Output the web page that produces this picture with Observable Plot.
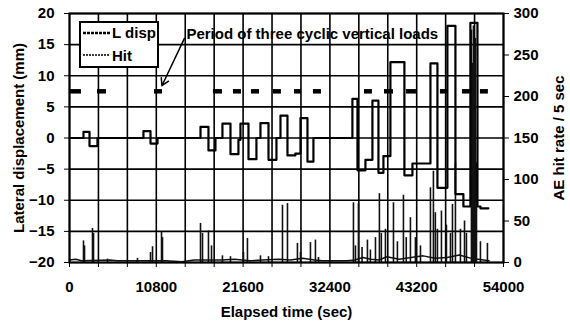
<!DOCTYPE html>
<html><head><meta charset="utf-8">
<script src="https://cdn.jsdelivr.net/npm/d3@7"></script>
<script src="https://cdn.jsdelivr.net/npm/@observablehq/plot@0.6"></script>
<style>
body{margin:0;background:#fff;}
#wrap{position:relative;width:570px;height:323px;}
#legend{position:absolute;left:79px;top:21px;}
</style></head><body><div id="wrap"></div>
<script>
// ---- data ----
const timeLabels = [0, 10800, 21600, 32400, 43200, 54000];
const gridTimes = [0,3600,7200,10800,14400,18000,21600,25200,28800,32400,36000,39600,43200,46800,50400,54000];
const dispTicks = [-20,-15,-10,-5,0,5,10,15,20];
const hitTicks = [0,50,100,150,200,250,300];

// lateral displacement (mm), step changes
const dispTime  = [0,1740,2490,3480,9200,10080,10950,16300,17290,18160,19030,20030,21020,21270,22270,23260,23760,24760,25750,26250,27120,28100,28740,29610,30350,35200,35830,36820,37690,38440,39060,39930,41670,42670,44910,45780,47020,48020,49010,49880,50760,51130,52120];
const dispValue = [0,1.0,-1.3,0,1.1,-0.9,0,1.8,-2.0,0,2.3,-2.6,-0.3,2.3,-3.4,0,2.4,-3.5,0,3.6,-2.8,-2.5,3.2,-3.8,0,6.3,-5.2,-3.5,6.0,-5.6,-2.9,12.2,-6.0,-4.1,12.0,-8.0,18.0,-9.0,-11.0,18.5,-11.0,-11.3,-11.3];

// AE hit rate: background level and spikes
const hitBaseTime = [0,800,1500,5000,6000,9000,12000,14000,15500,19000,20500,22500,24000,26000,27500,29000,30500,31500,34500,35500,36500,37500,38500,39500,41000,42500,44000,45500,47000,48500,50000,51500,52200];
const hitBaseRate = [3,4,2,3,2,2,2,1,3,3,4,2,3,4,3,5,3,2,2,3,6,4,3,7,4,6,8,5,6,9,5,3,2];
const hitSpikeTime = [1740,1870,2860,2990,4730,8460,10080,10330,11450,11570,16300,16550,17290,17670,19030,20030,21650,22140,23760,24760,26500,27120,28360,28740,29980,30600,30980,35330,35580,35950,36400,37070,37440,38070,38560,38800,39310,40310,40800,41550,41900,42420,43040,43670,44910,45280,45520,45780,46280,46900,47400,47650,48020,48640,49150,49390,50010,50130,50260,50380,50510,50640,51130,52000];
const hitSpikeRate = [26,20,41,35,4,5,12,19,37,30,47,35,38,20,8,7,12,29,8,7,69,71,23,12,24,27,6,72,20,71,18,27,15,30,83,35,40,72,25,81,30,54,30,20,90,110,60,40,62,45,35,70,120,40,50,35,280,240,285,260,270,120,25,23];

// periods of three cyclic vertical loads (sec)
const periodStart = [0,3480,10570,17910,20400,22640,25380,27990,30350,36700,39190,41920,46150,48890,51130];
const periodEnd   = [1490,4600,11570,19030,21400,23640,26370,28860,31350,37690,40310,43170,47150,49880,52120];
const periodLevel = 7.5;

const annotation = "Period of three cyclic vertical loads";

// ---- build ----
const hitToMM = h => h / 300 * 40 - 20;
const disp = dispTime.map((t, i) => ({t, v: dispValue[i]}));
const base = hitBaseTime.map((t, i) => ({t, v: hitToMM(hitBaseRate[i])}));
const spikes = hitSpikeTime.map((t, i) => ({t, v0: hitToMM(0), v1: hitToMM(hitSpikeRate[i])}));
const periods = periodStart.map((s, i) => ({s, e: periodEnd[i], y: periodLevel}));

const font = '"Liberation Sans", Arial, sans-serif';

const chart = Plot.plot({
  width: 570, height: 323,
  marginLeft: 69, marginRight: 67, marginTop: 13, marginBottom: 61,
  style: {fontFamily: font, fontSize: "15px", fontWeight: "bold"},
  x: {domain: [0, 54000]},
  y: {domain: [-20, 20]},
  marks: [
    Plot.gridX({ticks: gridTimes, stroke: "black", strokeOpacity: 1, strokeWidth: 1.6}),
    Plot.gridY({ticks: dispTicks, stroke: "black", strokeOpacity: 1, strokeWidth: 1.6}),
    Plot.axisX(gridTimes, {anchor: "bottom", tickSize: 5, tickPadding: 14,
      tickFormat: d => timeLabels.includes(d) ? String(d) : "",
      label: "Elapsed time (sec)", labelAnchor: "center", labelArrow: "none", labelOffset: 54}),
    Plot.axisY(dispTicks, {anchor: "left", tickSize: 5, tickPadding: 10,
      label: "Lateral displacement (mm)", labelAnchor: "center", labelArrow: "none", labelOffset: 56}),
    Plot.axisY(hitTicks.map(hitToMM), {anchor: "right", tickSize: 5, tickPadding: 5,
      tickFormat: d => String(Math.round((d + 20) / 40 * 300)),
      label: "AE hit rate / 5 sec", labelAnchor: "center", labelArrow: "none", labelOffset: 60}),
    Plot.line(base, {x: "t", y: "v", stroke: "#111", strokeWidth: 1.5}),
    Plot.ruleX(spikes, {x: "t", y1: "v0", y2: "v1", stroke: "#111", strokeWidth: 1.6}),
    Plot.line(disp, {x: "t", y: "v", curve: "step-after", stroke: "#000", strokeWidth: 2.2}),
    Plot.ruleY(periods, {x1: "s", x2: "e", y: "y", stroke: "#000", strokeWidth: 4.5}),
    Plot.arrow([{x1: 14300, y1: 16.0, x2: 11500, y2: 8.4}], {x1: "x1", y1: "y1", x2: "x2", y2: "y2", stroke: "#000", strokeWidth: 1.5, headLength: 8}),
    Plot.text([annotation], {x: 14550, y: 16.6, text: d => d, textAnchor: "start", fontSize: 15, fontWeight: "bold", fill: "#000"}),
    Plot.frame({stroke: "#000", strokeWidth: 2})
  ]
});

const wrap = document.getElementById("wrap");
wrap.appendChild(chart);

// legend
const ns = "http://www.w3.org/2000/svg";
const lg = document.createElementNS(ns, "svg");
lg.setAttribute("id", "legend");
lg.setAttribute("width", 80); lg.setAttribute("height", 47);
lg.innerHTML = `
<rect x="1" y="1" width="78" height="45" fill="#fff" stroke="#000" stroke-width="2"/>
<line x1="4" x2="31" y1="12" y2="12" stroke="#000" stroke-width="2.5" stroke-dasharray="3,1"/>
<line x1="4" x2="31" y1="34" y2="34" stroke="#000" stroke-width="1.5" stroke-dasharray="2,1"/>
<text x="33" y="17" font-family='${font}' font-size="15" font-weight="bold">L disp</text>
<text x="33" y="40" font-family='${font}' font-size="15" font-weight="bold">Hit</text>`;
wrap.appendChild(lg);
</script>
</body></html>
